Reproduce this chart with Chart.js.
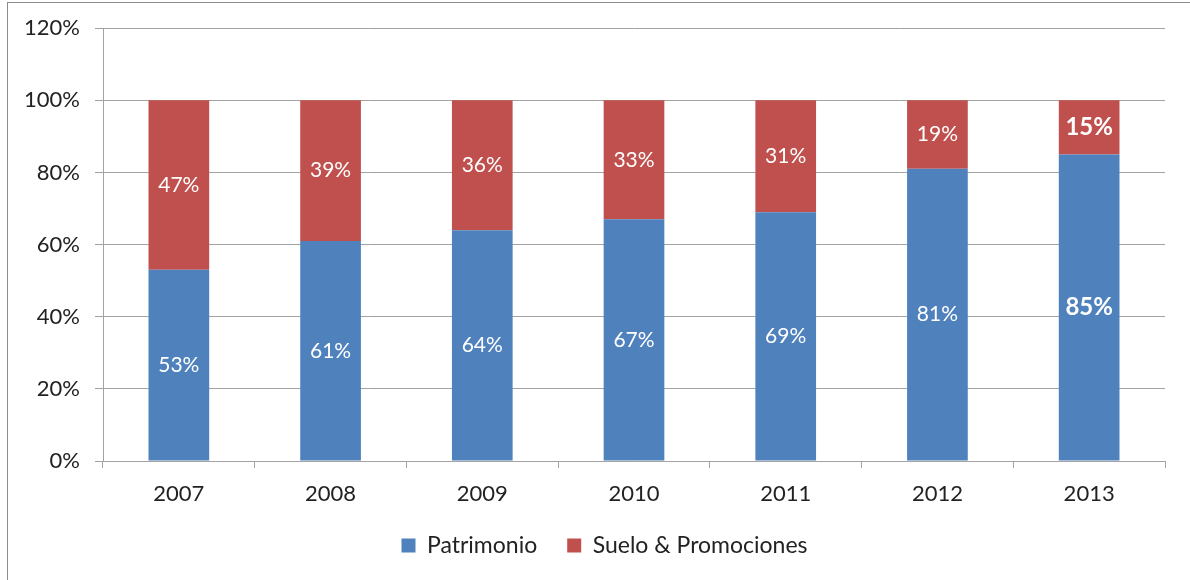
<!DOCTYPE html>
<html>
<head>
<meta charset="utf-8">
<script src="https://cdn.jsdelivr.net/npm/chart.js@4"></script>
<style>
  html, body { margin: 0; padding: 0; background: #fff; }
  #wrap { position: relative; width: 1190px; height: 580px; overflow: hidden; }
  #frame { position: absolute; left: 7px; top: 2px; width: 1200px; height: 600px; border: 1px solid #8c8c8c; box-sizing: border-box; }
  canvas { position: absolute; left: 0; top: 0; }
</style>
</head>
<body>
<div id="wrap">
  <div id="frame"></div>
  <canvas id="c" width="1190" height="580"></canvas>
</div>
<script>
const years = ['2007', '2008', '2009', '2010', '2011', '2012', '2013'];
const patrimonio = [53, 61, 64, 67, 69, 81, 85];
const suelo = [47, 39, 36, 33, 31, 19, 15];
const yTicks = [0, 20, 40, 60, 80, 100, 120];

const FONT = 'Lato, "DejaVu Sans", sans-serif';
const GRID = '#a3a3a3';

// etichette bianche al centro di ogni segmento
const barLabels = {
  id: 'barLabels',
  afterDatasetsDraw(chart) {
    const ctx = chart.ctx;
    ctx.save();
    ctx.fillStyle = '#fff';
    ctx.textAlign = 'center';
    ctx.textBaseline = 'middle';
    chart.data.datasets.forEach((ds, di) => {
      chart.getDatasetMeta(di).data.forEach((bar, i) => {
        const last = i === years.length - 1;
        ctx.font = last ? 'bold 24px ' + FONT : '21px ' + FONT;
        const y = (bar.y + bar.base) / 2;
        ctx.fillText(ds.data[i] + '%', bar.x, y);
      });
    });
    ctx.restore();
  }
};

// la legenda nell'originale è centrata sulla cornice, non sul canvas
const legendShift = {
  id: 'legendShift',
  afterLayout(chart) {
    if (chart.legend) {
      chart.legend.left += 22;
      chart.legend.right += 22;
    }
  }
};

new Chart(document.getElementById('c'), {
  type: 'bar',
  data: {
    labels: years,
    datasets: [
      { label: 'Patrimonio', data: patrimonio, backgroundColor: '#4f81bd', barPercentage: 0.4, categoryPercentage: 1 },
      { label: 'Suelo & Promociones', data: suelo, backgroundColor: '#c0504d', barPercentage: 0.4, categoryPercentage: 1 }
    ]
  },
  options: {
    responsive: false,
    animation: false,
    layout: { padding: { top: 28, right: 25, bottom: 13, left: 0 } },
    plugins: {
      tooltip: { enabled: false },
      legend: {
        position: 'bottom',
        labels: {
          font: { family: FONT, size: 23 },
          color: '#222',
          boxWidth: 14,
          boxHeight: 14,
          padding: 30
        }
      }
    },
    scales: {
      x: {
        stacked: true,
        grid: { drawOnChartArea: false, color: GRID, tickLength: 7, offset: true },
        border: { color: GRID },
        ticks: { font: { family: FONT, size: 22 }, color: '#222', padding: 13 },
        afterFit(scale) { scale.height = 43; }
      },
      y: {
        stacked: true,
        min: 0,
        max: 120,
        afterBuildTicks(scale) { scale.ticks = yTicks.map(v => ({ value: v })); },
        grid: { color: GRID, tickLength: 8 },
        border: { color: GRID },
        ticks: {
          font: { family: FONT, size: 22 },
          color: '#222',
          padding: 15,
          callback: v => v + '%'
        },
        afterFit(scale) { scale.width = 103; }
      }
    }
  },
  plugins: [barLabels, legendShift]
});
</script>
</body>
</html>
